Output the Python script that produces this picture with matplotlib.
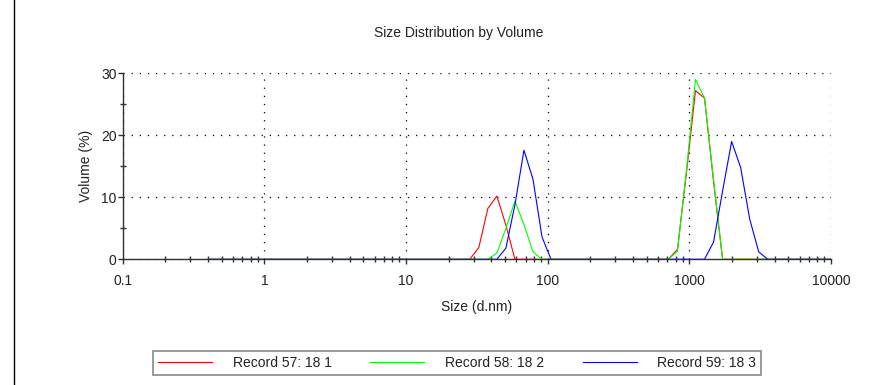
import matplotlib
matplotlib.use("Agg")
import matplotlib.pyplot as plt
from matplotlib.lines import Line2D
from matplotlib.ticker import MultipleLocator, LogLocator, NullFormatter

plt.rcParams['font.family'] = ['Liberation Sans', 'DejaVu Sans']

# size classes (d.nm) of the instrument
sizes = [0.4, 0.4632, 0.5365, 0.6213, 0.7195, 0.8332, 0.9650, 1.117, 1.294, 1.499,
         1.736, 2.010, 2.328, 2.696, 3.122, 3.615, 4.187, 4.849, 5.615, 6.503,
         7.531, 8.721, 10.10, 11.70, 13.54, 15.69, 18.17, 21.04, 24.36, 28.21,
         32.67, 37.84, 43.82, 50.75, 58.77, 68.06, 78.82, 91.28, 105.7, 122.4,
         141.8, 164.2, 190.1, 220.2, 255.0, 295.3, 342.0, 396.1, 458.7, 531.2,
         615.1, 712.4, 825.0, 955.4, 1106, 1281, 1484, 1718, 1990, 2305,
         2669, 3091, 3580, 4145, 4801, 5560, 6439, 7456, 8635, 10000]

# volume (%) per size class
rec57 = [0, 0, 0, 0, 0, 0, 0, 0, 0, 0,
         0, 0, 0, 0, 0, 0, 0, 0, 0, 0,
         0, 0, 0, 0, 0, 0, 0, 0, 0, 0,
         1.9, 8.2, 10.2, 5.5, 0, 0, 0, 0, 0, 0,
         0, 0, 0, 0, 0, 0, 0, 0, 0, 0,
         0, 0, 1.6, 14.0, 27.2, 26.0, 12.5, 0, 0, 0,
         0, 0, 0, 0, 0, 0, 0, 0, 0, 0]
rec58 = [0, 0, 0, 0, 0, 0, 0, 0, 0, 0,
         0, 0, 0, 0, 0, 0, 0, 0, 0, 0,
         0, 0, 0, 0, 0, 0, 0, 0, 0, 0,
         0, 0, 1.0, 5.0, 9.4, 5.6, 1.2, 0, 0, 0,
         0, 0, 0, 0, 0, 0, 0, 0, 0, 0,
         0, 0, 1.3, 14.4, 29.0, 26.0, 12.8, 0, 0, 0,
         0, 0, 0, 0, 0, 0, 0, 0, 0, 0]
rec59 = [0, 0, 0, 0, 0, 0, 0, 0, 0, 0,
         0, 0, 0, 0, 0, 0, 0, 0, 0, 0,
         0, 0, 0, 0, 0, 0, 0, 0, 0, 0,
         0, 0, 0, 1.8, 8.8, 17.6, 12.9, 3.6, 0, 0,
         0, 0, 0, 0, 0, 0, 0, 0, 0, 0,
         0, 0, 0, 0, 0, 0, 2.8, 11.0, 19.0, 14.8,
         6.5, 1.2, 0, 0, 0, 0, 0, 0, 0, 0]

labels = ["Record 57: 18 1", "Record 58: 18 2", "Record 59: 18 3"]
colors = ["#ff0000", "#00ff00", "#0000ff"]

xticks = [0.1, 1, 10, 100, 1000, 10000]
xticklabels = ["0.1", "1", "10", "100", "1000", "10000"]
yticks = [0, 10, 20, 30]

fig = plt.figure(figsize=(8.87, 3.85), dpi=100)
ax = fig.add_axes([0.1383, 0.3265, 0.7985, 0.4831])

handles = []
for ys, c, lab in zip([rec57, rec58, rec59], colors, labels):
    h, = ax.plot(sizes, ys, color=c, lw=0.8, label=lab, zorder=3)
    handles.append(h)

ax.set_xscale('log')
ax.set_xlim(0.1, 10000)
ax.set_ylim(0, 30)
ax.set_xticks(xticks)
ax.set_xticklabels(xticklabels)
ax.xaxis.set_minor_locator(LogLocator(base=10, subs=range(2, 10), numticks=20))
ax.xaxis.set_minor_formatter(NullFormatter())
ax.set_yticks(yticks)
ax.yaxis.set_minor_locator(MultipleLocator(5))

ax.grid(True, which='major', color='black', linestyle=(0, (1, 5.5)), lw=0.9)
for s in ['top', 'right']:
    ax.spines[s].set_visible(False)
for s in ['left', 'bottom']:
    ax.spines[s].set_color('#303030')
    ax.spines[s].set_linewidth(1.0)
    ax.spines[s].set_zorder(2)

ax.tick_params(axis='both', which='major', direction='out', length=3.5, width=1,
               color='#303030', labelsize=10, labelcolor='#222222')
ax.tick_params(axis='x', which='major', pad=7)
ax.tick_params(axis='y', which='major', pad=1)
ax.tick_params(axis='both', which='minor', direction='inout', length=4.5, width=1,
               color='#303030')

ax.set_xlabel("Size (d.nm)", fontsize=10, color='#222222', labelpad=9)
ax.set_ylabel("Volume (%)", fontsize=10, color='#222222', labelpad=5.5)

fig.text(459 / 887, 0.914, "Size Distribution by Volume", ha='center', va='center',
         fontsize=10, color='#222222')

leg = fig.legend(handles, labels, loc='center', bbox_to_anchor=(457 / 887, 1 - 363 / 385),
                 ncol=3, frameon=True, fancybox=False, edgecolor='#777777',
                 handlelength=3.9, handletextpad=1.45, columnspacing=2.8,
                 borderpad=0.35, borderaxespad=0, fontsize=10)
leg.get_frame().set_linewidth(1.3)
for t in leg.get_texts():
    t.set_color('#222222')

# left border line of the report page
fig.add_artist(Line2D([14.3 / 887, 14.3 / 887], [0, 1], color='black', lw=1.0))

fig.savefig("out.png", dpi=100)
